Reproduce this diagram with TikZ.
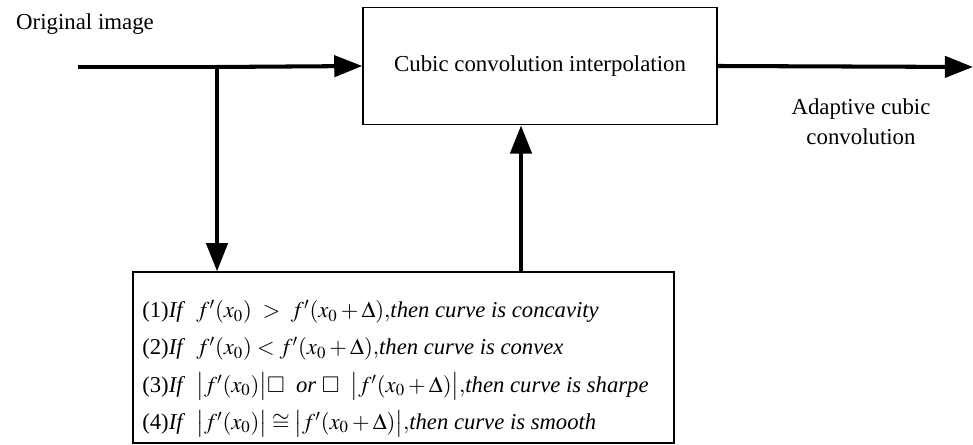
\documentclass[tikz,border=0pt]{standalone}
\usepackage{amsmath,amssymb}
\usepackage{mathptmx}
\usepackage{fontspec}
\setmainfont{Liberation Serif}
\usepackage{tikz}
\usetikzlibrary{arrows.meta,positioning,calc}
\tikzset{
  flow/.style={line width=2.3pt,-{Triangle[length=16pt,width=12pt]}},
  wire/.style={line width=2.3pt},
  procbox/.style={draw,line width=0.8pt,inner sep=0pt},
  lbl/.style={font=\fontsize{13}{17}\selectfont},
}
\begin{document}
\begin{tikzpicture}[x=0.02cm,y=-0.02cm]
  \useasboundingbox (0,0) rectangle (973,445);
  % interpolation block
  \node[procbox,lbl,minimum width=7.08cm,minimum height=2.35cm] (cubic) at (540,66) {Cubic convolution interpolation};
  % curve test block
  \node[procbox,minimum width=10.82cm,minimum height=3.42cm] (condbox) at (403.5,357.5) {};
  \node[anchor=north west,inner sep=0pt,align=left,
        font=\fontsize{12.9}{21.2}\selectfont] (cond) at (142,300) {%
    (1)\textit{If}\ \ $f'(x_0)\ >\ f'(x_0+\Delta),$\textit{then curve is concavity}\\
    (2)\textit{If}\ \ $f'(x_0)<f'(x_0+\Delta),$\textit{then curve is convex}\\
    (3)\textit{If}\ \ $\bigl|f'(x_0)\bigr|\square$\ \ \textit{or}\ $\square$\ \ $\bigl|f'(x_0+\Delta)\bigr|,$\textit{then curve is sharpe}\\
    (4)\textit{If}\ \ $\bigl|f'(x_0)\bigr|\cong\bigl|f'(x_0+\Delta)\bigr|,$\textit{then curve is smooth}};
  \node[lbl,anchor=base west] (orig) at (10,30) {Original image};
  \node[lbl,align=center] (adapt) at (861,122) {Adaptive cubic\\convolution};
  % signal path
  \coordinate (in) at (78,67);
  \coordinate (br) at (217,67);
  \coordinate (up) at (521,0);
  \coordinate (out) at (973,67);
  \draw[wire] (in) -- (br);
  \draw[flow] (br) -- (cubic.west);
  \draw[flow] (br) -- (br |- condbox.north);
  \draw[flow] (up |- condbox.north) -- (up |- cubic.south);
  \draw[flow] (cubic.east) -- (out);
\end{tikzpicture}
\end{document}
